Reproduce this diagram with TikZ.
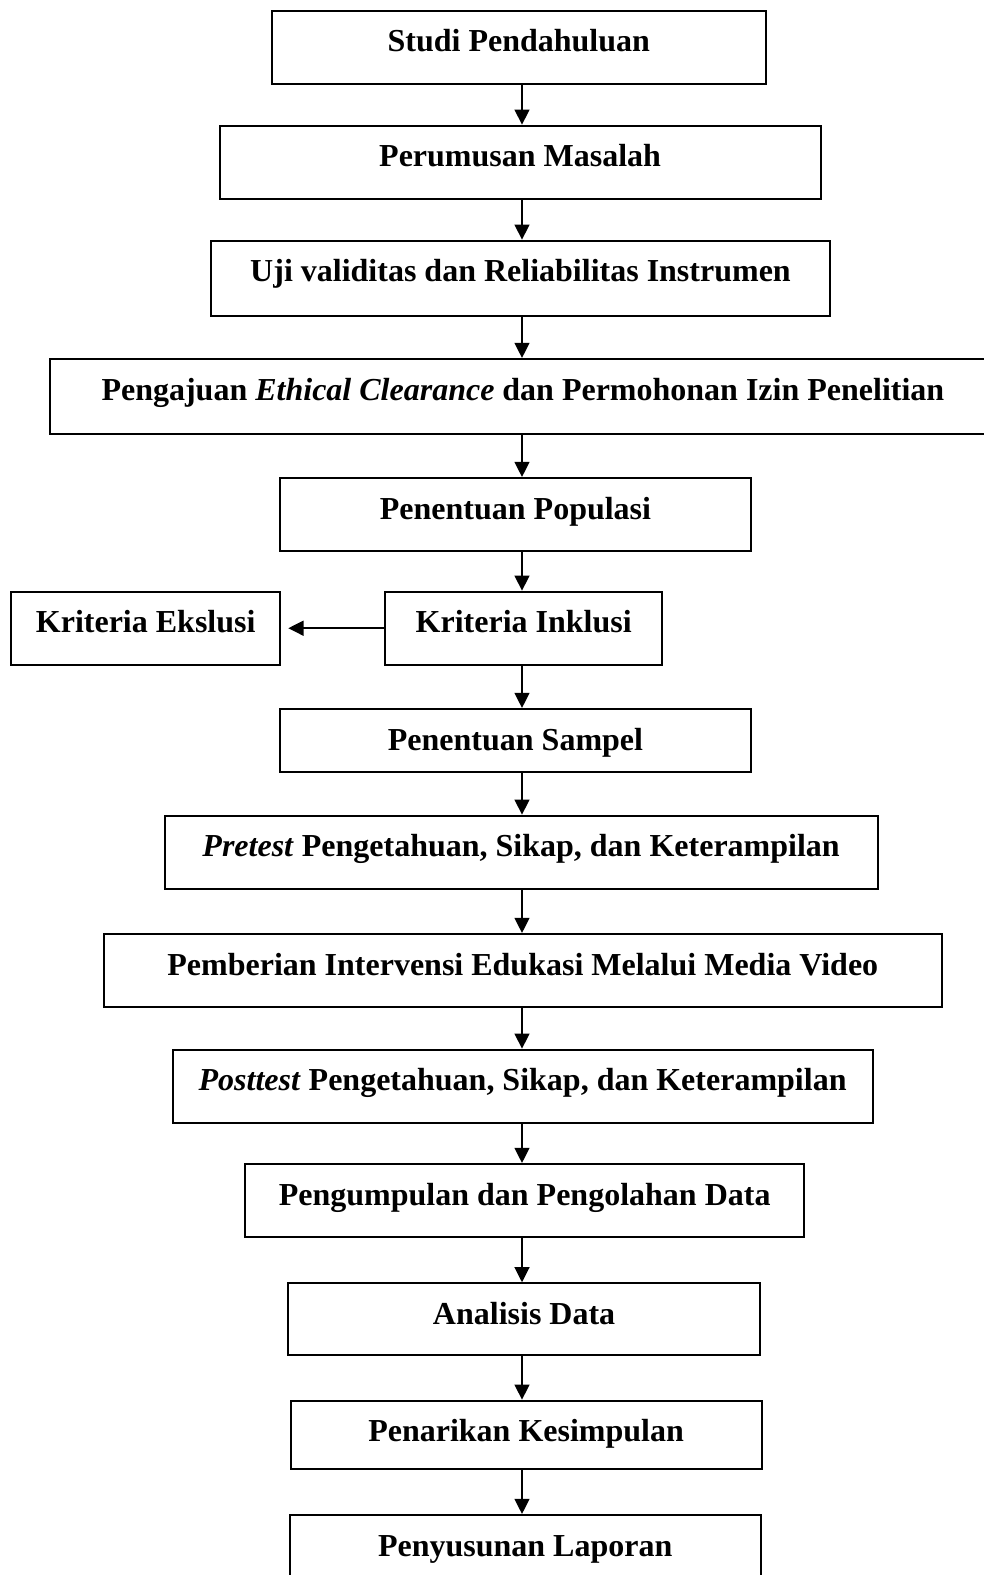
\documentclass[tikz,border=0pt]{standalone}
\usepackage{fontspec}
\setmainfont{Liberation Serif}
\usetikzlibrary{arrows.meta,positioning}

\begin{document}
\begin{tikzpicture}[
  x=0.5pt, y=-0.5pt,
  box/.style={draw, line width=1pt, inner xsep=0pt, inner ysep=0pt,
              text height=20.5pt, text depth=16pt, anchor=base,
              font=\fontsize{16pt}{19pt}\selectfont\bfseries},
  arr/.style={-{Triangle[length=7.6pt, width=7.4pt]}, line width=1.1pt},
]
  \clip (0,0) rectangle (984,1575);

  \node[box, minimum width=247pt] (studi) at (518.8,51.7) {Studi Pendahuluan};
  \node[box, minimum width=300.4pt] (rumus) at (520.1,166.7) {Perumusan Masalah};
  \node[box, minimum width=309.5pt, text depth=17pt] (uji) at (520.5,281.7)
    {Uji validitas dan Reliabilitas Instrumen};
  \node[box, minimum width=472.7pt, text depth=17pt] (etik) at (522.9,400)
    {Pengajuan \textit{Ethical Clearance} dan Permohonan Izin Penelitian};
  \node[box, minimum width=235.5pt] (populasi) at (515.5,519) {Penentuan Populasi};
  \node[box, minimum width=138.3pt] (inklusi) at (523.7,632.7) {Kriteria Inklusi};
  \node[box, minimum width=134.4pt] (eksklusi) at (145.7,632.7) {Kriteria Ekslusi};
  \node[box, minimum width=235.5pt, text depth=11.2pt] (sampel) at (515.5,750) {Penentuan Sampel};
  \node[box, minimum width=356.5pt] (pretest) at (521.1,856.7)
    {\textit{Pretest} Pengetahuan, Sikap, dan Keterampilan};
  \node[box, minimum width=418.8pt] (intervensi) at (522.8,975)
    {Pemberian Intervensi Edukasi Melalui Media Video};
  \node[box, minimum width=350pt] (posttest) at (522.6,1090.7)
    {\textit{Posttest} Pengetahuan, Sikap, dan Keterampilan};
  \node[box, minimum width=279.3pt] (kumpul) at (524.7,1205) {Pengumpulan dan Pengolahan Data};
  \node[box, minimum width=235.7pt, text depth=15.5pt] (analisis) at (524.1,1324.3) {Analisis Data};
  \node[box, minimum width=235.5pt, text depth=13.5pt] (simpulan) at (526.1,1441.7) {Penarikan Kesimpulan};
  \node[box, minimum width=235.5pt] (laporan) at (525.2,1556) {Penyusunan Laporan};

  \coordinate (axis) at (522,0);
  \foreach \a/\b in {studi/rumus, rumus/uji, uji/etik, etik/populasi,
                     populasi/inklusi, inklusi/sampel, sampel/pretest,
                     pretest/intervensi, intervensi/posttest, posttest/kumpul,
                     kumpul/analisis, analisis/simpulan, simpulan/laporan}
    \draw[arr] (\a.south -| axis) -- (\b.north -| axis);
  \draw[arr, shorten >=3.6pt] (inklusi) -- (eksklusi);
\end{tikzpicture}
\end{document}
